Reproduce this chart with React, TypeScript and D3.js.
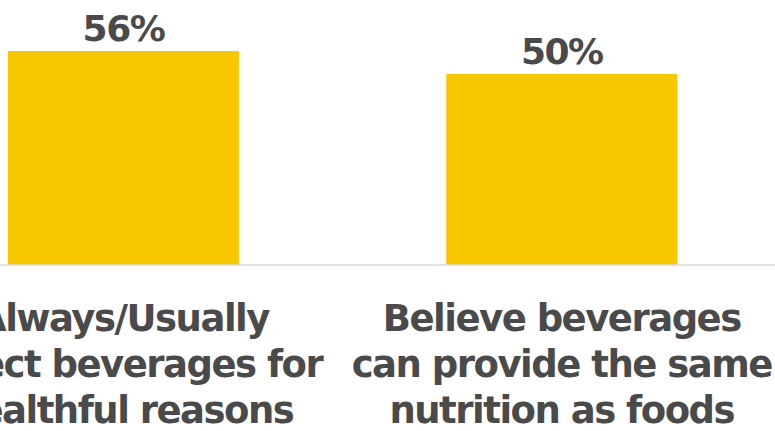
import React from "react";
import * as d3 from "d3";

const categories = ["cat1", "cat2"];
const values = [56, 50];
const valueLabels = ["56%", "50%"];
const labelLines = [
  ["Always/Usually", "select beverages for", "healthful reasons"],
  ["Believe beverages", "can provide the same", "nutrition as foods"],
];

const W = 775;
const H = 431;
const baseY = 265;

export default function App() {
  const x = d3
    .scaleBand<string>()
    .domain(categories)
    .range([-199.4, 884.6])
    .paddingInner(0.473)
    .paddingOuter(0.473);
  const y = d3.scaleLinear().domain([0, 56]).range([baseY, 51]);
  const font = "'Century Gothic', 'DejaVu Sans', sans-serif";
  return (
    <svg
      width={W}
      height={H}
      style={{ position: "absolute", left: 0, top: 0, background: "#fff" }}
    >
      {categories.map((c, i) => {
        const bx = x(c)!;
        const cx = bx + x.bandwidth() / 2;
        return (
          <g key={c}>
            <rect
              x={bx}
              y={y(values[i])}
              width={x.bandwidth()}
              height={baseY - y(values[i])}
              fill="#F9C700"
            />
            <text
              x={cx}
              y={y(values[i]) - 10}
              textAnchor="middle"
              fontFamily={font}
              fontWeight="bold"
              fontSize={36}
              letterSpacing={-1.5}
              fill="#4a4a4a"
            >
              {valueLabels[i]}
            </text>
            {labelLines[i].map((ln, j) => (
              <text
                key={j}
                x={cx}
                y={331 + j * 46}
                textAnchor="middle"
                fontFamily={font}
                fontWeight="bold"
                fontSize={37}
                letterSpacing={-1.5}
                fill="#4a4a4a"
              >
                {ln}
              </text>
            ))}
          </g>
        );
      })}
      <line x1={0} x2={W} y1={baseY} y2={baseY} stroke="#d9d9d9" strokeWidth={1.5} />
    </svg>
  );
}
